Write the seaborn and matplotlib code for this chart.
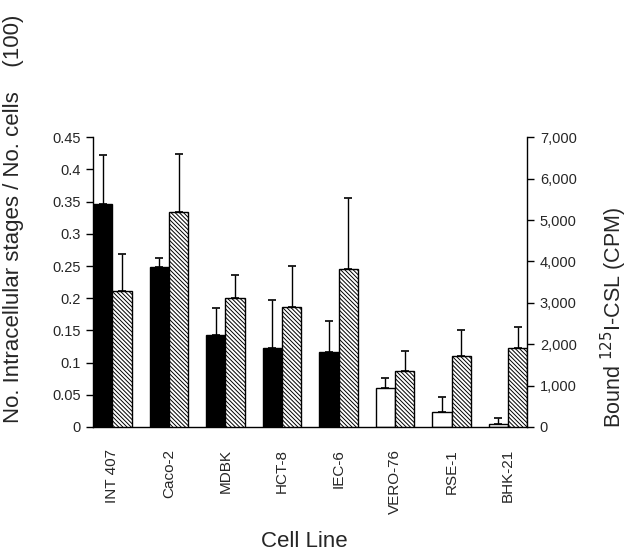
import numpy as np
import pandas as pd
import seaborn as sns
import matplotlib.pyplot as plt
from matplotlib.ticker import FuncFormatter

# DATI
cell_lines = ["INT 407", "Caco-2", "MDBK", "HCT-8", "IEC-6", "VERO-76", "RSE-1", "BHK-21"]
intracellular = [0.347, 0.248, 0.143, 0.123, 0.116, 0.061, 0.024, 0.004]
intracellular_sd = [0.076, 0.014, 0.042, 0.074, 0.049, 0.015, 0.023, 0.010]
bound_cpm = [3290, 5190, 3110, 2910, 3820, 1350, 1710, 1920]
bound_sd = [880, 1400, 550, 990, 1700, 480, 630, 490]
left_colors = ["black"] * 5 + ["white"] * 3

series = ["intr", "bound"]
n = len(cell_lines)

# tabelle lunghe: ogni asse riceve entrambe le serie (l'altra a zero) per avere il dodge
df_left = pd.DataFrame({"cell": cell_lines * 2, "series": ["intr"] * n + ["bound"] * n,
                        "value": intracellular + [0] * n})
df_right = pd.DataFrame({"cell": cell_lines * 2, "series": ["intr"] * n + ["bound"] * n,
                         "value": [0] * n + bound_cpm})

sns.set_style("white")
plt.rcParams["font.family"] = ["Liberation Sans", "DejaVu Sans"]
plt.rcParams["hatch.linewidth"] = 0.7

fig = plt.figure(figsize=(6.3, 5.6), dpi=100)
ax = fig.add_axes([0.148, 0.2375, 0.689, 0.5175])
ax2 = ax.twinx()

sns.barplot(data=df_left, x="cell", y="value", hue="series", hue_order=series,
            order=cell_lines, palette={"intr": "black", "bound": "white"},
            width=0.68, gap=0, errorbar=None, edgecolor="black", linewidth=1,
            legend=False, ax=ax)
sns.barplot(data=df_right, x="cell", y="value", hue="series", hue_order=series,
            order=cell_lines, palette={"intr": "white", "bound": "white"},
            width=0.68, gap=0, errorbar=None, edgecolor="black", linewidth=1,
            legend=False, ax=ax2)

# tolgo le barre vuote
left_bars = list(ax.patches)[:n]
for p in list(ax.patches)[n:]:
    p.remove()
right_bars = list(ax2.patches)[n:]
for p in list(ax2.patches)[:n]:
    p.remove()

for p, c in zip(left_bars, left_colors):
    p.set_facecolor(c)
xl = [p.get_x() + p.get_width() / 2 for p in left_bars]
ax.errorbar(xl, intracellular, yerr=[np.zeros(n), intracellular_sd],
            fmt="none", ecolor="black", elinewidth=1, capsize=3, capthick=1.2)

for p in right_bars:
    p.set_hatch("\\\\\\\\\\\\\\\\")
    p.set_facecolor("white")
xr = [p.get_x() + p.get_width() / 2 for p in right_bars]
ax2.errorbar(xr, bound_cpm, yerr=[np.zeros(n), bound_sd],
             fmt="none", ecolor="black", elinewidth=1, capsize=3, capthick=1.2)

# ASSI
ax.set_xlim(-0.34, 7.34)
ax.set_ylim(0, 0.45)
ax2.set_ylim(0, 7000)
ax.set_yticks(np.arange(0, 0.451, 0.05))
ax.yaxis.set_major_formatter(FuncFormatter(lambda v, _: f"{v:.2f}".rstrip("0").rstrip(".") if v else "0"))
ax2.set_yticks(np.arange(0, 7001, 1000))
ax2.yaxis.set_major_formatter(FuncFormatter(lambda v, _: f"{int(v):,}"))

for a in (ax, ax2):
    for s in a.spines.values():
        s.set_color("black")
        s.set_linewidth(1)
    a.spines["top"].set_visible(False)
    a.tick_params(axis="y", direction="out", length=5, width=1, color="black",
                  labelsize=10.5, pad=4)
ax.spines["right"].set_visible(False)
ax2.spines["left"].set_visible(False)
ax2.spines["bottom"].set_visible(False)

ax.tick_params(axis="x", length=0, labelsize=11, labelrotation=90, pad=16)
ax.set_xlabel("Cell Line", fontsize=16)
ax.xaxis.set_label_coords(0.486, -0.36)
ax.set_ylabel("No. Intracellular stages / No. cells    (100)", fontsize=16)
ax.yaxis.set_label_coords(-0.16, 0.72)
ax2.set_ylabel("Bound $^{125}$I-CSL (CPM)", fontsize=15.5)
ax2.yaxis.set_label_coords(1.165, 0.38)

plt.savefig("out.png", dpi=100)
plt.close()
